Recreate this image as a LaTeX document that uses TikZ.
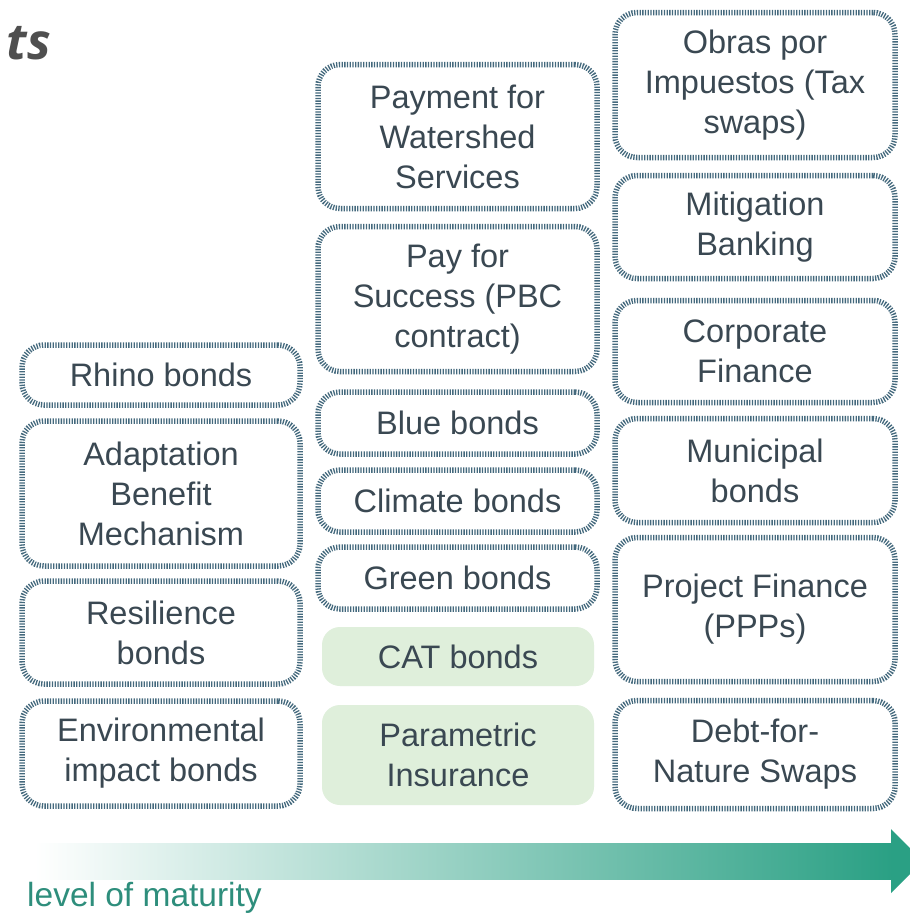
\documentclass[tikz,border=0pt]{standalone}
\usepackage{fontspec}
\setmainfont{Liberation Sans}
\newfontfamily\titlefont{Open Sans}
\definecolor{txt}{HTML}{3A4852}
\definecolor{brd}{HTML}{44697D}
\definecolor{fillg}{HTML}{DFEFDB}
\definecolor{arrowteal}{HTML}{2AA084}
\definecolor{lab}{HTML}{2E8E7C}
\definecolor{titlegrey}{HTML}{4F4F4F}
\begin{document}
\begin{tikzpicture}[x=1pt,y=-1pt,
  mbox/.style={draw=brd, line width=5.5pt, dash pattern=on 1.3pt off 1.4pt,
    rounded corners=22pt, align=center, text=txt, inner sep=0pt,
    font=\fontsize{32.5}{40}\selectfont, fill=white},
  greenbox/.style={fill=fillg, rounded corners=18pt, align=center, text=txt,
    inner sep=0pt, font=\fontsize{32.5}{40}\selectfont},
]
\useasboundingbox[fill=white] (0,0) rectangle (910,914);

% title fragment
\node[anchor=base east, inner sep=0pt, text=titlegrey,
  font=\titlefont\bfseries\itshape\fontsize{50}{58}\selectfont] (title) at (51,59) {ts};

% left column
\node[mbox, minimum width=278, minimum height=60]  (rhino) at (161,375) {Rhino bonds};
\node[mbox, minimum width=278, minimum height=145] (adapt) at (161,493.5) {Adaptation\\Benefit\\Mechanism};
\node[mbox, minimum width=278, minimum height=103] (resil) at (161,632.5) {Resilience\\bonds};
\node[mbox, minimum width=278, minimum height=105] (env)   at (161,753.5) {Environmental\\impact bonds};

% middle column
\node[mbox, minimum width=279, minimum height=144] (pws)     at (457.5,136.5) {Payment for\\Watershed\\Services};
\node[mbox, minimum width=279, minimum height=145] (pfs)     at (457.5,299) {Pay for\\Success (PBC\\contract)};
\node[mbox, minimum width=279, minimum height=62]  (blue)    at (457.5,423) {Blue bonds};
\node[mbox, minimum width=279, minimum height=62]  (climate) at (457.5,501) {Climate bonds};
\node[mbox, minimum width=279, minimum height=62]  (green)   at (457.5,578) {Green bonds};
\node[greenbox, minimum width=272, minimum height=59]  (cat)   at (458,656.5) {CAT bonds};
\node[greenbox, minimum width=272, minimum height=100] (param) at (458,755) {Parametric\\Insurance};

% right column
\node[mbox, minimum width=280, minimum height=145] (obras) at (755,85) {Obras por\\Impuestos (Tax\\swaps)};
\node[mbox, minimum width=280, minimum height=103] (mitig) at (755,227) {Mitigation\\Banking};
\node[mbox, minimum width=280, minimum height=102] (corp)  at (755,351.5) {Corporate\\Finance};
\node[mbox, minimum width=280, minimum height=104] (muni)  at (755,470.5) {Municipal\\bonds};
\node[mbox, minimum width=280, minimum height=144] (proj)  at (755,609.5) {Project Finance\\(PPPs)};
\node[mbox, minimum width=280, minimum height=108] (debt)  at (755,754.5) {Debt-for-\\Nature Swaps};

% maturity arrow
\shade[left color=white, right color=arrowteal] (35,843) rectangle (892,879);
\fill[arrowteal] (891,829) -- (923,861) -- (891,893) -- cycle;
\node[anchor=base west, inner sep=0pt, text=lab,
  font=\fontsize{33.5}{40}\selectfont] (maturity) at (27,906) {level of maturity};
\end{tikzpicture}
\end{document}
